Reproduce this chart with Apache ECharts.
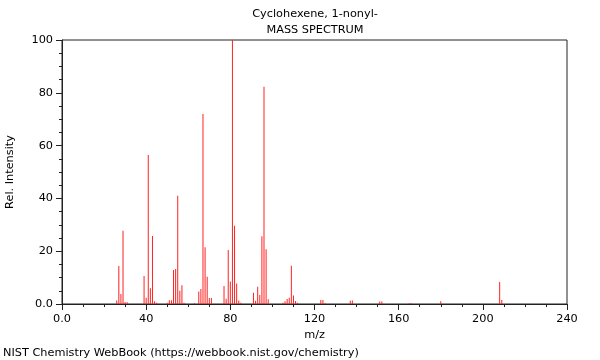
<!DOCTYPE html>
<html>
<head>
<meta charset="utf-8">
<script src="https://cdn.jsdelivr.net/npm/echarts@6/dist/echarts.min.js"></script>
<style>
html,body{margin:0;padding:0;background:#fff;}
#chart{width:600px;height:360px;}
</style>
</head>
<body>
<div id="chart"></div>
<script>
const titleLines = ["Cyclohexene, 1-nonyl-", "MASS SPECTRUM"];
const xAxisName = "m/z";
const yAxisName = "Rel. Intensity";
const footer = "NIST Chemistry WebBook (https://webbook.nist.gov/chemistry)";
const mz = [26,27,28,29,30,31,39,40,41,42,43,44,45,50,51,52,53,54,55,56,57,58,63,65,66,67,68,69,70,71,77,78,79,80,81,82,83,84,85,91,92,93,94,95,96,97,98,105,106,107,108,109,110,111,112,123,124,125,137,138,151,152,165,166,180,208,209];
const intensity = [1.3,14.4,3.8,27.7,0.8,0.7,10.6,2.4,56.4,6,25.8,1.0,0.5,0.5,1.4,1.4,12.9,13.3,41,5,7.1,0.5,0.3,4.7,5.7,72,21.5,10.3,2.3,2.3,6.8,2,20.5,8.5,100,29.6,7.8,1.3,0.5,4.3,1.2,6.5,3.4,25.7,82.3,20.7,1.8,0.5,1.0,1.9,2.4,14.5,3.2,1.1,0.5,1.5,1.5,0.3,1.2,1.3,0.9,0.9,0.3,0.3,1.0,8.3,1.5];

const FONT = "DejaVu Sans";
const FS = 11.3;
const chart = echarts.init(document.getElementById('chart'), null, {renderer: 'canvas'});
const data = mz.map((m, i) => [m, intensity[i]]);
const fmt = v => (v === 0 ? "0.0" : String(v));
chart.setOption({
  animation: false,
  backgroundColor: '#fff',
  textStyle: {fontFamily: FONT},
  title: [
    {text: titleLines[0], left: 315, top: 8.5, padding: 0, textAlign: 'center', textStyle: {fontFamily: FONT, fontSize: FS, fontWeight: 'normal', color: '#000'}},
    {text: titleLines[1], left: 315, top: 25, padding: 0, textAlign: 'center', textStyle: {fontFamily: FONT, fontSize: FS, fontWeight: 'normal', color: '#000'}},
    {text: footer, left: 3, top: 347.5, padding: 0, textStyle: {fontFamily: FONT, fontSize: FS, fontWeight: 'normal', color: '#000'}}
  ],
  grid: {left: 62, right: 33, top: 40, bottom: 56, containLabel: false, outerBoundsMode: 'none', show: true, borderColor: '#222', borderWidth: 1, backgroundColor: 'transparent'},
  xAxis: {
    type: 'value', min: 0, max: 240, interval: 40,
    name: xAxisName, nameLocation: 'middle', nameGap: 26,
    nameTextStyle: {fontFamily: FONT, fontSize: FS, color: '#000'},
    axisLine: {show: true, onZero: false, lineStyle: {color: '#222'}},
    axisTick: {show: true, inside: false, length: 6, lineStyle: {color: '#222'}},
    minorTick: {show: true, splitNumber: 4, length: 3, lineStyle: {color: '#222'}},
    splitLine: {show: false},
    axisLabel: {formatter: fmt, fontFamily: FONT, fontSize: FS, color: '#000', margin: 10}
  },
  yAxis: {
    type: 'value', min: 0, max: 100, interval: 20,
    name: yAxisName, nameLocation: 'middle', nameGap: 46, nameRotate: 90,
    nameTextStyle: {fontFamily: FONT, fontSize: FS, color: '#000'},
    axisLine: {show: true, lineStyle: {color: '#222'}},
    axisTick: {show: true, inside: false, length: 6, lineStyle: {color: '#222'}},
    minorTick: {show: true, splitNumber: 4, length: 3, lineStyle: {color: '#222'}},
    splitLine: {show: false},
    axisLabel: {formatter: fmt, fontFamily: FONT, fontSize: FS, color: '#000', margin: 9}
  },
  series: [{
    type: 'bar',
    data: data,
    barWidth: 1,
    itemStyle: {color: '#ff2222'},
    silent: true
  }]
});
</script>
</body>
</html>
